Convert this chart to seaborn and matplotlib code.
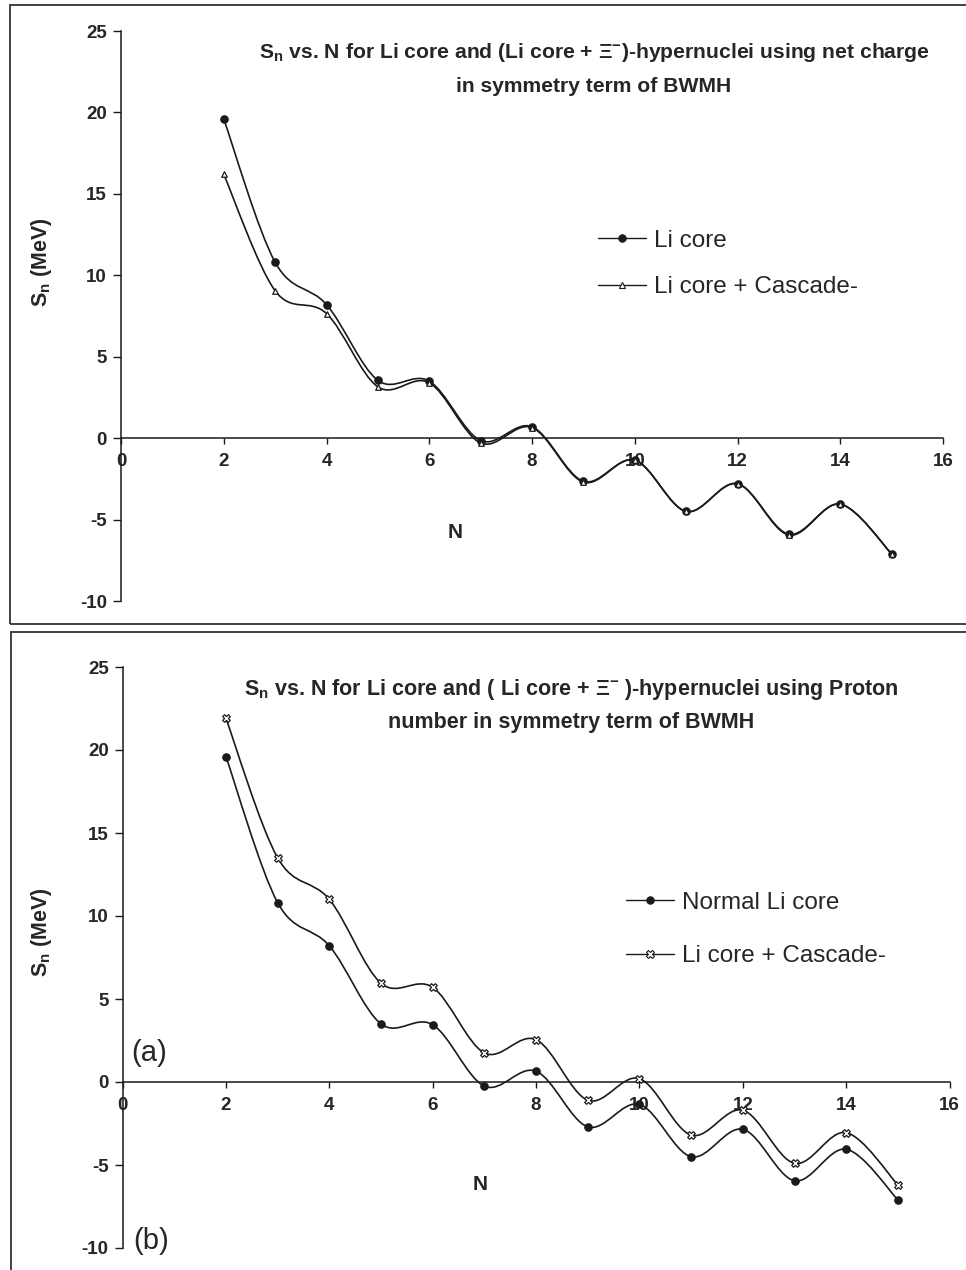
"""
S_n vs. N for Li core and (Li core + Xi-) hypernuclei, two stacked panels.
"""

import numpy as np
import pandas as pd
import matplotlib
matplotlib.use("Agg")
import matplotlib.pyplot as plt
import seaborn as sns
from matplotlib.path import Path
from matplotlib.patches import PathPatch, Rectangle
from matplotlib.lines import Line2D

# ---- data ----
n_values = [2, 3, 4, 5, 6, 7, 8, 9, 10, 11, 12, 13, 14, 15]

li_core_net = [19.6, 10.8, 8.2, 3.55, 3.5, -0.15, 0.7, -2.65, -1.35, -4.5, -2.8, -5.9, -4.05, -7.1]
cascade_net = [16.2, 9.05, 7.65, 3.15, 3.4, -0.3, 0.65, -2.7, -1.35, -4.5, -2.8, -5.95, -4.05, -7.1]

li_core_proton = [19.6, 10.8, 8.2, 3.5, 3.45, -0.25, 0.65, -2.7, -1.35, -4.5, -2.85, -5.95, -4.05, -7.1]
cascade_proton = [21.9, 13.5, 11.0, 5.95, 5.7, 1.75, 2.55, -1.1, 0.2, -3.2, -1.7, -4.9, -3.05, -6.2]

y_ticks = [-10, -5, 0, 5, 10, 15, 20, 25]
x_ticks = [0, 2, 4, 6, 8, 10, 12, 14, 16]

title_a = ("S$_\\mathregular{n}$ vs. N for Li core and (Li core + $\\Xi^{-}$)-hypernuclei using net charge\n"
           "in symmetry term of BWMH")
title_b = ("S$_\\mathregular{n}$ vs. N for Li core and ( Li core + $\\Xi^{-}$ )-hypernuclei using Proton\n"
           "number in symmetry term of BWMH")

sns.set_style("white")
plt.rcParams['font.family'] = ['Liberation Sans', 'DejaVu Sans']
plt.rcParams['axes.unicode_minus'] = False
plt.rcParams['mathtext.fontset'] = 'custom'
plt.rcParams['mathtext.rm'] = 'Liberation Sans:bold'
plt.rcParams['mathtext.it'] = 'Liberation Sans:bold'
plt.rcParams['mathtext.bf'] = 'Liberation Sans:bold'

INK = '#1a1a1a'


def smooth_path(xs, ys):
    """Excel-like smoothed line: Catmull-Rom segments as cubic Bezier curves."""
    pts = np.column_stack([xs, ys]).astype(float)
    n = len(pts)
    verts = [pts[0]]
    codes = [Path.MOVETO]
    for i in range(n - 1):
        p0 = pts[i - 1] if i > 0 else pts[i]
        p1, p2 = pts[i], pts[i + 1]
        p3 = pts[i + 2] if i + 2 < n else pts[i + 1]
        verts += [p1 + (p2 - p0) / 6, p2 - (p3 - p1) / 6, p2]
        codes += [Path.CURVE4] * 3
    return Path(verts, codes)


def draw_panel(ax, series, title, title_xy, title_fs, title_ls, legend_xy, legend_gap, nlabel_xy):
    for name, ys, mk, ms, fc in series:
        ax.add_patch(PathPatch(smooth_path(n_values, ys), fill=False, edgecolor=INK, lw=1.2))
        df = pd.DataFrame({'N': n_values, 'Sn': ys})
        sns.scatterplot(data=df, x='N', y='Sn', ax=ax, marker=mk, s=ms, color=fc,
                        edgecolor=INK, linewidth=0.9, zorder=3, legend=False)

    ax.set_xlim(0, 16)
    ax.set_ylim(-10, 25)
    ax.set_xticks(x_ticks)
    ax.set_yticks(y_ticks)
    ax.spines['top'].set_visible(False)
    ax.spines['right'].set_visible(False)
    ax.spines['bottom'].set_position(('data', 0))
    for s in ['left', 'bottom']:
        ax.spines[s].set_color(INK)
        ax.spines[s].set_linewidth(1.1)
    ax.tick_params(axis='y', direction='out', length=6, width=1, color=INK,
                   labelsize=13.5, pad=4, left=True)
    ax.tick_params(axis='x', direction='out', length=4, width=1, color=INK,
                   labelsize=13.5, pad=7, bottom=True)
    for lab in ax.get_xticklabels() + ax.get_yticklabels():
        lab.set_fontweight('bold')
    ax.set_xlabel('')
    ax.set_ylabel('')

    ax.text(title_xy[0], title_xy[1], title, transform=ax.figure.transFigure,
            ha='center', va='top', fontsize=title_fs, fontweight='bold', linespacing=title_ls)
    ax.text(nlabel_xy[0], nlabel_xy[1], 'N', transform=ax.figure.transFigure,
            ha='center', va='center', fontsize=15, fontweight='bold')

    handles = [Line2D([0], [0], color=INK, lw=1.0, marker=mk, markersize=np.sqrt(ms),
                      markerfacecolor=fc, markeredgecolor=INK, markeredgewidth=0.8)
               for _, _, mk, ms, fc in series]
    labels = [s[0] for s in series]
    ax.legend(handles, labels, loc='upper left', bbox_to_anchor=legend_xy,
              bbox_transform=ax.figure.transFigure, frameon=False, fontsize=17.5,
              handlelength=2.0, handletextpad=0.3, labelspacing=legend_gap)


fig = plt.figure(figsize=(9.66, 12.7), dpi=100)

# frames around each chart area (scanned Excel charts)
fig.add_artist(Rectangle((10 / 966, 1 - 624 / 1270), 1.0, 619 / 1270,
                         transform=fig.transFigure, fill=False, lw=1.3, edgecolor='#333333'))
fig.add_artist(Rectangle((11 / 966, -0.01), 1.0, 1 - 632 / 1270 + 0.01,
                         transform=fig.transFigure, fill=False, lw=1.3, edgecolor='#333333'))

ax_a = fig.add_axes([121 / 966, 1 - 601 / 1270, 822 / 966, 570 / 1270])
ax_b = fig.add_axes([122.6 / 966, 1 - 1248 / 1270, 827 / 966, 581 / 1270])

draw_panel(ax_a,
           [('Li core', li_core_net, 'o', 28, INK),
            ('Li core + Cascade-', cascade_net, '^', 16, 'white')],
           title_a, (594 / 966, 1 - 41 / 1270), 15.2, 1.85, (576 / 966, 1 - 208 / 1270), 1.0,
           (455 / 966, 1 - 533 / 1270))
draw_panel(ax_b,
           [('Normal Li core', li_core_proton, 'o', 28, INK),
            ('Li core + Cascade-', cascade_proton, 'X', 30, 'white')],
           title_b, (571 / 966, 1 - 677 / 1270), 15.5, 1.6, (604 / 966, 1 - 870 / 1270), 1.3,
           (480 / 966, 1 - 1185 / 1270))

for ax, sn_y in [(ax_a, 262), (ax_b, 932)]:
    fig.text(42 / 966, 1 - sn_y / 1270, 'S$_\\mathregular{n}$ (MeV)', rotation=90,
             ha='center', va='center', fontsize=15.5, fontweight='bold')

fig.text(131 / 966, 1 - 1053 / 1270, '(a)', ha='left', va='center', fontsize=21)
fig.text(133 / 966, 1 - 1241 / 1270, '(b)', ha='left', va='center', fontsize=21)

fig.savefig('out.png', dpi=100)
